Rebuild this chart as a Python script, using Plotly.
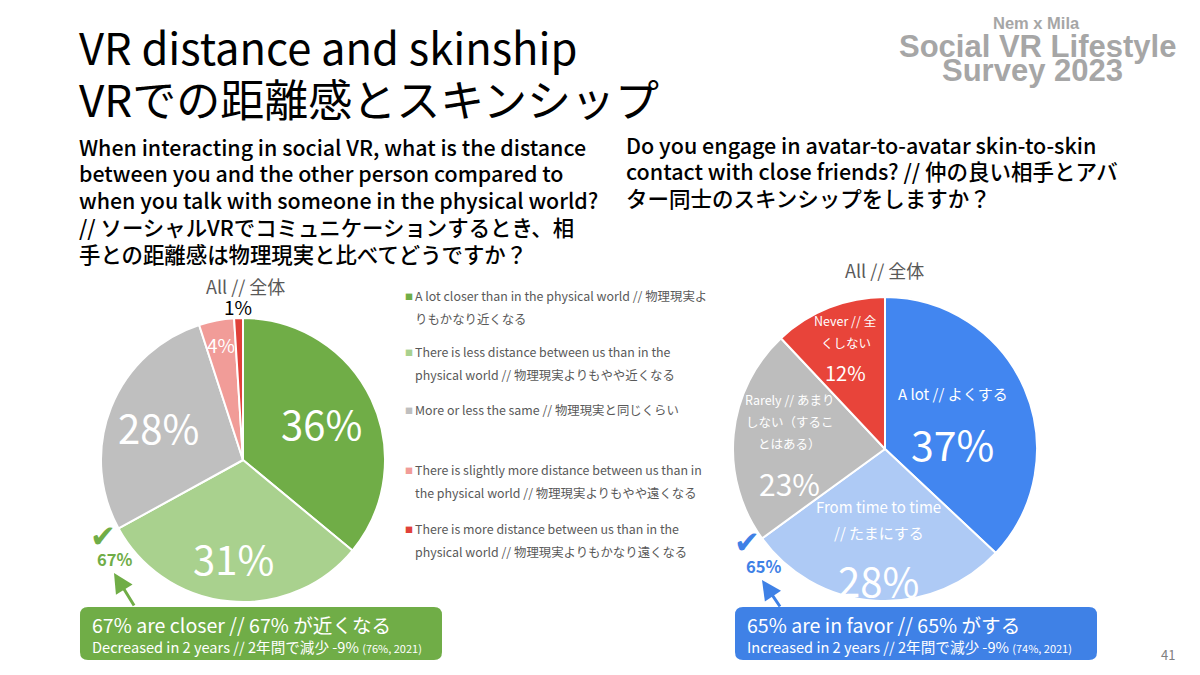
import numpy as np
import plotly.graph_objects as go

W, H = 1200, 675
# the page body keeps its default 8px margin, so the figure is drawn inside it
OFF = 8
FW, FH = W - 2 * OFF, H - 2 * OFF
FONT = "Noto Sans CJK JP, Noto Sans, sans-serif"
LOGO_FONT = "Liberation Sans, Arial, sans-serif"

# left pie: distance compared to the physical world
dist_labels = [
    "A lot closer than in the physical world // 物理現実よりもかなり近くなる",
    "There is less distance between us than in the physical world // 物理現実よりもやや近くなる",
    "More or less the same // 物理現実と同じくらい",
    "There is slightly more distance between us than in the physical world // 物理現実よりもやや遠くなる",
    "There is more distance between us than in the physical world // 物理現実よりもかなり遠くなる",
]
dist_values = [36, 31, 28, 4, 1]
dist_colors = ["#70AD47", "#A9D18E", "#BFBFBF", "#F19C98", "#E0413A"]

# legend text, wrapped as on the slide
dist_legend = [
    ["A lot closer than in the physical world // 物理現実よ", "りもかなり近くなる"],
    ["There is less distance between us than in the", "physical world // 物理現実よりもやや近くなる"],
    ["More or less the same // 物理現実と同じくらい"],
    ["There is slightly more distance between us than in", "the physical world // 物理現実よりもやや遠くなる"],
    ["There is more distance between us than in the", "physical world // 物理現実よりもかなり遠くなる"],
]

# right pie: avatar skinship with close friends
skin_labels = ["A lot // よくする", "From time to time // たまにする",
               "Rarely // あまりしない（することはある）", "Never // 全くしない"]
skin_values = [37, 28, 23, 12]
skin_colors = ["#4286F0", "#AECAF5", "#BDBDBD", "#E8443A"]
skin_desc = [
    ["A lot // よくする"],
    ["From time to time", "// たまにする"],
    ["Rarely // あまり", "しない（するこ", "とはある）"],
    ["Never // 全", "くしない"],
]

# pie geometry in page pixels (centre x, centre y, radius)
LEFT = (243, 460, 142)
RIGHT = (885, 449, 152)


def px(x):
    return (x - OFF) / FW


def py(y):
    return 1 - (y - OFF) / FH


def domain(c):
    cx, cy, r = c
    return dict(x=[px(cx - r), px(cx + r)], y=[py(cy + r), py(cy - r)])


def mid_dirs(values):
    v = np.array(values, dtype=float)
    start = np.cumsum(v) - v
    ang = (start + v / 2) / v.sum() * 2 * np.pi
    return np.sin(ang), -np.cos(ang)


def rounded_box(x0, y0, x1, y1, r):
    pts = [("M", x0 + r, y0), ("L", x1 - r, y0), ("Q", x1, y0, x1, y0 + r),
           ("L", x1, y1 - r), ("Q", x1, y1, x1 - r, y1), ("L", x0 + r, y1),
           ("Q", x0, y1, x0, y1 - r), ("L", x0, y0 + r), ("Q", x0, y0, x0 + r, y0)]
    out = []
    for p in pts:
        cmd, coords = p[0], p[1:]
        xy = []
        for i in range(0, len(coords), 2):
            xy.append(f"{px(coords[i]):.5f},{py(coords[i + 1]):.5f}")
        out.append(cmd + " " + " ".join(xy))
    return " ".join(out) + " Z"


fig = go.Figure()

fig.add_trace(go.Pie(
    labels=dist_labels, values=dist_values, sort=False, direction="clockwise",
    marker=dict(colors=dist_colors, line=dict(color="white", width=2)),
    textinfo="none", hoverinfo="label+percent", showlegend=False,
    domain=domain(LEFT),
))
fig.add_trace(go.Pie(
    labels=skin_labels, values=skin_values, sort=False, direction="clockwise",
    marker=dict(colors=skin_colors, line=dict(color="white", width=2)),
    textinfo="none", hoverinfo="label+percent", showlegend=False,
    domain=domain(RIGHT),
))

ann = []


def text(x, y, s, size, color="black", xanchor="left", family=FONT, weight="normal"):
    ann.append(dict(x=px(x), y=py(y), xref="paper", yref="paper", text=s, showarrow=False,
                    xanchor=xanchor, yanchor="middle", borderpad=0,
                    font=dict(family=family, size=size, color=color, weight=weight)))


# titles
text(78, 46, "VR distance and skinship", 43.5)
text(78, 98, "VRでの距離感とスキンシップ", 44)

q_left = ["When interacting in social VR, what is the distance",
          "between you and the other person compared to",
          "when you talk with someone in the physical world?",
          "// ソーシャルVRでコミュニケーションするとき、相",
          "手との距離感は物理現実と比べてどうですか？"]
for i, line in enumerate(q_left):
    text(78, 146 + i * 26.8, line, 21.4, weight=500)

q_right = ["Do you engage in avatar-to-avatar skin-to-skin",
           "contact with close friends? // 仲の良い相手とアバ",
           "ター同士のスキンシップをしますか？"]
for i, line in enumerate(q_right):
    text(625, 144 + i * 26.8, line, 21.5, weight=500)

# logo
text(1036, 23, "Nem x Mila", 16.5, "#A6A6A6", "center", LOGO_FONT, "bold")
text(1037, 46, "Social VR Lifestyle", 31, "#A6A6A6", "center", LOGO_FONT, "bold")
text(1032, 70, "Survey 2023", 31, "#A6A6A6", "center", LOGO_FONT, "bold")

# pie headers
text(245, 286, "All // 全体", 18, "#595959", "center")
text(884, 270, "All // 全体", 18, "#595959", "center")

# left pie labels
cx, cy, r = LEFT
dx, dy = mid_dirs(dist_values)
left_frac = [0.61, 0.69, 0.64, 0.83, 1.08]
left_size = [40, 40, 40, 19, 19]
left_col = ["white", "white", "white", "white", "black"]
for i, v in enumerate(dist_values):
    text(cx + left_frac[i] * r * dx[i], cy + left_frac[i] * r * dy[i], f"{v}%",
         left_size[i], left_col[i], "center")

# left legend
leg_y = [296, 352, 410, 470, 529]
for i, lines in enumerate(dist_legend):
    text(404, leg_y[i], "■", 8, dist_colors[i])
    for j, line in enumerate(lines):
        text(414, leg_y[i] + j * 22.5, line, 12.4, "#595959")

# right pie labels
cx, cy, r = RIGHT
dx, dy = mid_dirs(skin_values)
right_frac = [0.485, 0.63, 0.63, 0.70]
desc_off = [-26, -25, -18, -19]
pct_off = [23, 35, 43, 22]
desc_size = [15, 15, 12.5, 12.5]
desc_gap = [0, 26, 22, 22]
pct_size = [41, 40, 30, 20]
for i, v in enumerate(skin_values):
    bx = cx + right_frac[i] * r * dx[i]
    by = cy + right_frac[i] * r * dy[i]
    lines = skin_desc[i]
    top = by + desc_off[i] - (len(lines) - 1) * desc_gap[i] / 2
    for j, line in enumerate(lines):
        text(bx, top + j * desc_gap[i], line, desc_size[i], "white", "center")
    text(bx, by + pct_off[i], f"{v}%", pct_size[i], "white", "center")

# summary call-outs
GREEN, BLUE = "#70AD47", "#3F81E6"
closer = sum(dist_values[:2])
favor = sum(skin_values[:2])
shapes = [
    dict(type="path", xref="paper", yref="paper", path=rounded_box(80, 607, 442, 660, 8),
         fillcolor=GREEN, line=dict(width=0)),
    dict(type="path", xref="paper", yref="paper", path=rounded_box(735, 607, 1097, 660, 8),
         fillcolor=BLUE, line=dict(width=0)),
]
text(91, 624, f"{closer}% are closer // {closer}% が近くなる", 19.6, "white")
text(91, 646, "Decreased in 2 years // 2年間で減少 -9% <span style='font-size:11px'>(76%, 2021)</span>",
     14.6, "white")
text(746, 624, f"65% are in favor // {favor}% がする", 19.6, "white")
text(746, 646, "Increased in 2 years // 2年間で減少 -9% <span style='font-size:11px'>(74%, 2021)</span>",
     14.6, "white")

text(103, 536, "✔", 31, GREEN, "center", "DejaVu Sans")
text(114, 559, f"{closer}%", 16.5, GREEN, "center", weight="bold")
text(747, 542, "✔", 31, BLUE, "center", "DejaVu Sans")
text(763, 566, f"{favor}%", 16.5, BLUE, "center", weight="bold")

# arrows from the call-outs up to the summary figures (tail offsets in pixels)
for head, tail, col in [((114, 573), (135, 607), GREEN), ((762, 580), (781, 608), BLUE)]:
    ann.append(dict(x=px(head[0]), y=py(head[1]), ax=tail[0] - head[0], ay=tail[1] - head[1],
                    xref="paper", yref="paper",
                    text="", showarrow=True, arrowhead=2, arrowsize=1.3,
                    arrowwidth=3, arrowcolor=col))

text(1168, 654, "41", 13, "#7F7F7F", "center")

fig.update_layout(
    width=FW, height=FH,
    margin=dict(l=0, r=0, t=0, b=0),
    paper_bgcolor="white", plot_bgcolor="white",
    annotations=ann, shapes=shapes,
    font=dict(family=FONT),
)

fig.write_html("out.html")
